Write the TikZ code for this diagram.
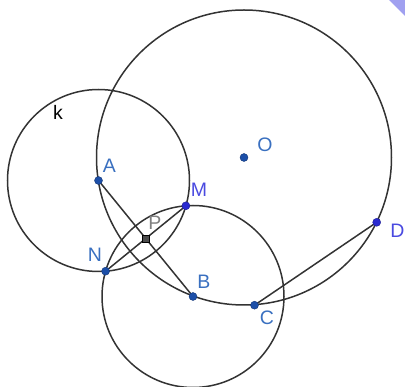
\documentclass[tikz,border=0pt]{standalone}
\usepackage{fontspec}
\setmainfont{Liberation Sans}
\begin{document}
\begin{tikzpicture}[x=1pt,y=-1pt,
  geo/.style={draw=black!80, line width=1.5pt},
  ptdot/.style={circle, fill=ptblue, draw=ptblue!70!black, line width=0.4pt, minimum size=8pt, inner sep=0pt},
  ptdotb/.style={circle, fill=ptviolet, draw=ptviolet!70!black, line width=0.4pt, minimum size=8pt, inner sep=0pt},
  ptsq/.style={rectangle, fill=black!70, draw=black, line width=0.4pt, minimum size=7pt, inner sep=0pt},
  lbl/.style={inner sep=0pt, font=\fontsize{19.5}{20}\selectfont, text=lblblue},
  lblv/.style={lbl, text=lblviolet},
]
\definecolor{ptblue}{HTML}{1C4FA8}
\definecolor{ptviolet}{HTML}{2A2AD0}
\definecolor{lblblue}{HTML}{3A70C0}
\definecolor{lblviolet}{HTML}{4A4AE0}
\definecolor{cornerv}{HTML}{A0A0F0}
\useasboundingbox (0,0) rectangle (405,387);
\fill[cornerv] (389,0) -- (405,0) -- (405,16) -- cycle;
% key points
\coordinate (Oc) at (244,157.5);
\coordinate (Ac) at (98.5,180.5);
\coordinate (Bc) at (193,296.5);
\coordinate (Mc) at (185.9,205.8);
\coordinate (Nc) at (105.6,271.2);
\coordinate (Pc) at (145.75,238.5);
\coordinate (Cc) at (254.5,305.2);
\coordinate (Dc) at (376.7,222.3);
% circles
\draw[geo] (Oc) circle [radius=147.5];
\draw[geo] (Ac) circle [radius=91];
\draw[geo] (Bc) circle [radius=91];
% segments
\draw[geo] (Ac) -- (Bc);
\draw[geo] (Mc) -- (Nc);
\draw[geo] (Cc) -- (Dc);
% points
\node[ptdot] (O) at (Oc) {};
\node[ptdot] (A) at (Ac) {};
\node[ptdot] (B) at (Bc) {};
\node[ptdot] (C) at (Cc) {};
\node[ptdotb] (D) at (Dc) {};
\node[ptdotb] (M) at (Mc) {};
\node[ptdot] (N) at (Nc) {};
\node[ptsq] (P) at (Pc) {};
% labels
\node[lbl, text=black] (lk) at (58,112.5) {k};
\node[lbl] (lO) at (265,144.5) {O};
\node[lbl] (lA) at (109.5,166) {A};
\node[lblv] (lM) at (199,190) {M};
\node[lbl] (lN) at (95,255) {N};
\node[lbl, text=black!50] (lP) at (155,223) {P};
\node[lbl] (lB) at (204,282) {B};
\node[lbl] (lC) at (267,317.5) {C};
\node[lblv] (lD) at (397.5,230.5) {D};
\end{tikzpicture}
\end{document}
